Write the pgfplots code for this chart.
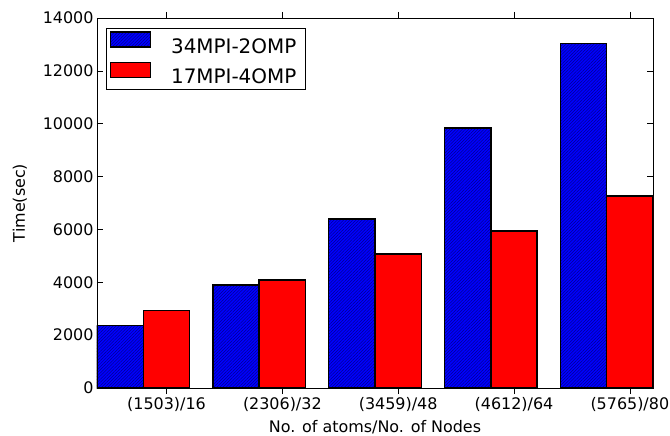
\documentclass[border=0pt]{standalone}
\usepackage{pgfplots}
\pgfplotsset{compat=1.18}
\usepackage{fontspec}
\setmainfont{DejaVu Sans}
\usetikzlibrary{patterns.meta}
\begin{document}
\begin{tikzpicture}
\useasboundingbox (-97bp,-48bp) rectangle (573bp,388bp);
\begin{axis}[
  scale only axis, width=556bp, height=370bp,
  xmin=0, xmax=4.8, ymin=0, ymax=14000,
  ytick={0,2000,...,14000},
  scaled y ticks=false,
  xtick={0.6,1.6,2.6,3.6,4.6},
  xticklabels={(1503)/16,(2306)/32,(3459)/48,(4612)/64,(5765)/80},
  tick align=inside, tick pos=both,
  major tick length=6bp,
  every tick/.style={black, line width=0.6bp},
  axis line style={line width=0.9bp},
  /pgf/number format/1000 sep={},
  /pgf/number format/assume math mode=true,
  tick label style={font=\fontsize{16}{18}\selectfont},
  label style={font=\fontsize{16}{18}\selectfont},
  xlabel={No. of atoms/No. of Nodes},
  ylabel={Time(sec)},
  xlabel style={yshift=-2bp},
  ylabel style={yshift=9bp},
  ybar, bar width=0.4,
  legend cell align=left,
  legend style={at={(0.017,0.973)}, anchor=north west, draw=black, line width=0.9bp,
    font=\fontsize{20}{23}\selectfont, row sep=5bp, inner xsep=3bp, inner ysep=3bp,
    nodes={inner xsep=6bp}},
  legend image code/.code={\draw[#1, line width=1.2bp] (3bp,-0.5bp) rectangle (43bp,14.5bp);},
]
\addplot[bar shift=0pt, fill=blue, draw=black, line width=1.5bp,
  postaction={pattern={Lines[angle=45,distance=2.2bp,line width=0.35bp]}, pattern color=blue!45!black}]
  coordinates {(0.2,2360) (1.2,3900) (2.2,6390) (3.2,9830) (4.2,13030)};
\addlegendentry{\hspace{14bp}34MPI-2OMP}
\addplot[bar shift=0pt, fill=red, draw=black, line width=1.5bp]
  coordinates {(0.6,2930) (1.6,4085) (2.6,5070) (3.6,5940) (4.6,7265)};
\addlegendentry{\hspace{14bp}17MPI-4OMP}
\end{axis}
\end{tikzpicture}
\end{document}
